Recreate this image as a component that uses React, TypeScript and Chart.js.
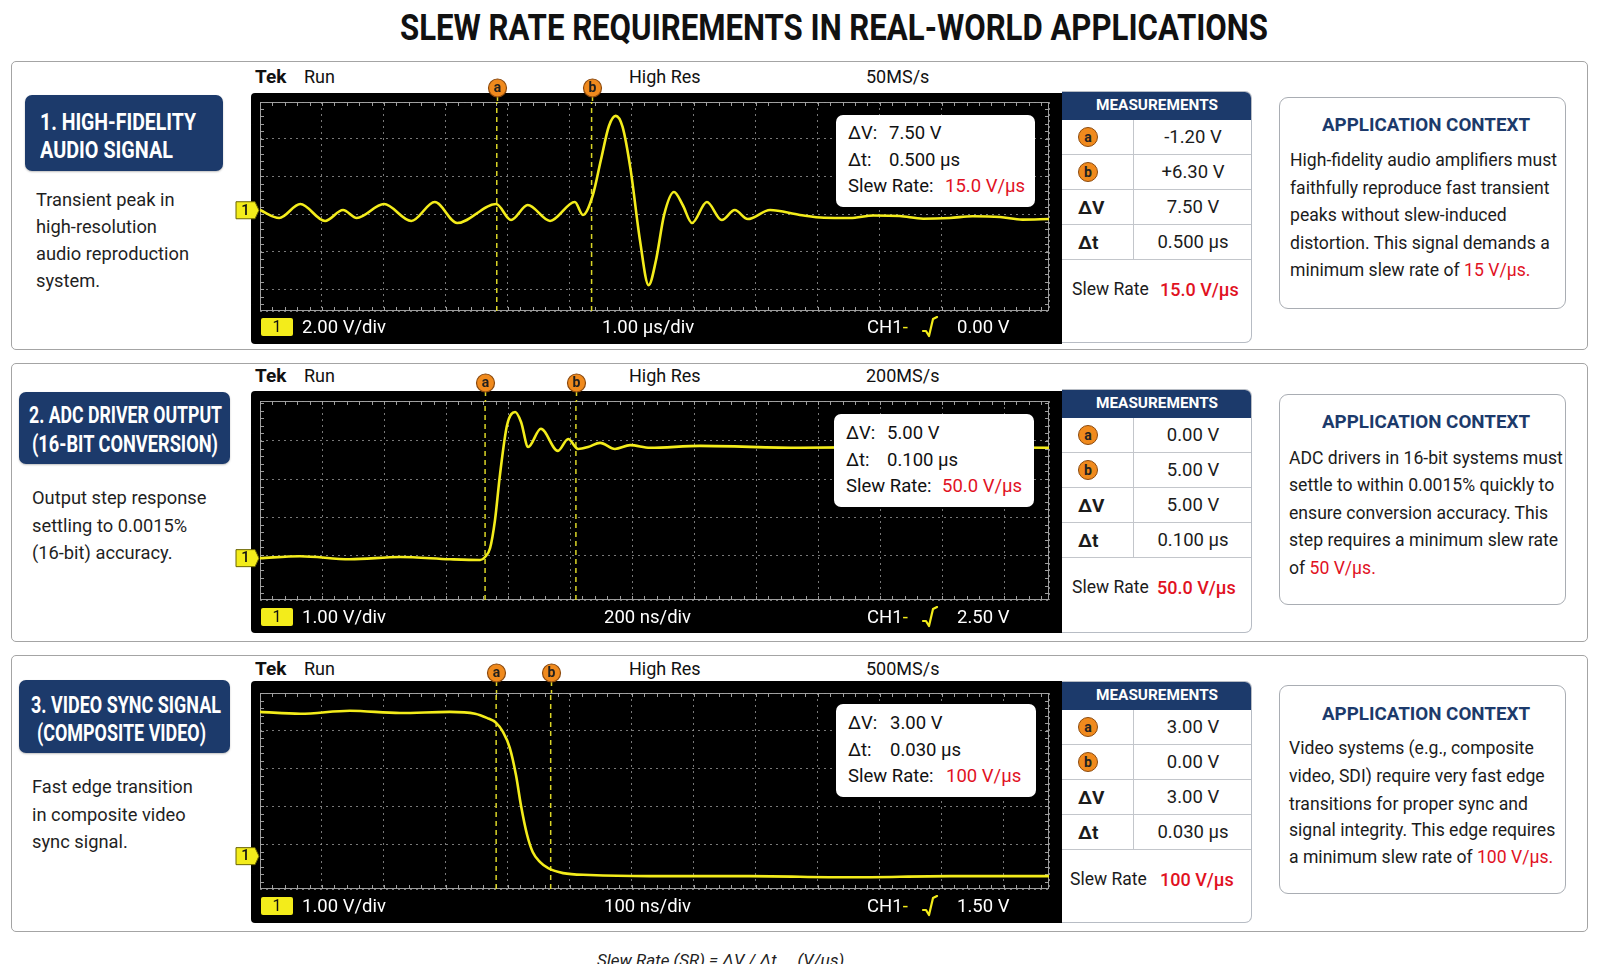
import React, { useEffect, useLayoutEffect, useRef } from "react";
import { Chart, registerables } from "chart.js";

Chart.register(...registerables);

const FONT = 'Roboto, "Noto Sans", "DejaVu Sans", sans-serif';
const NAVY = "#1c3a6b";
const RED = "#e1121f";
const ORANGE = "#f08a1d";
const SIG = "#f3ec1b";

// ---------------- data ----------------
const TITLE = "SLEW RATE REQUIREMENTS IN REAL-WORLD APPLICATIONS";
const LABELS = [
  ["1. HIGH-FIDELITY", "AUDIO SIGNAL"],
  ["2. ADC DRIVER OUTPUT", "(16-BIT CONVERSION)"],
  ["3. VIDEO SYNC SIGNAL", "(COMPOSITE VIDEO)"],
];
const DESCRIPTIONS = [
  ["Transient peak in", "high-resolution", "audio reproduction", "system."],
  ["Output step response", "settling to 0.0015%", "(16-bit) accuracy."],
  ["Fast edge transition", "in composite video", "sync signal."],
];
const SAMPLE_RATES = ["50MS/s", "200MS/s", "500MS/s"];
const VOLTS_PER_DIV = ["2.00 V/div", "1.00 V/div", "1.00 V/div"];
const TIME_PER_DIV = ["1.00 µs/div", "200 ns/div", "100 ns/div"];
const TRIGGER_LEVELS = ["0.00 V", "2.50 V", "1.50 V"];
const CURSOR_A_VOLTS = ["-1.20 V", "0.00 V", "3.00 V"];
const CURSOR_B_VOLTS = ["+6.30 V", "5.00 V", "0.00 V"];
const DELTA_V = ["7.50 V", "5.00 V", "3.00 V"];
const DELTA_T = ["0.500 µs", "0.100 µs", "0.030 µs"];
const SLEW_RATES = ["15.0 V/µs", "50.0 V/µs", "100 V/µs"];
const CONTEXT_LINES = [
  ["High-fidelity audio amplifiers must", "faithfully reproduce fast transient", "peaks without slew-induced", "distortion. This signal demands a", "minimum slew rate of "],
  ["ADC drivers in 16-bit systems must", "settle to within 0.0015% quickly to", "ensure conversion accuracy. This", "step requires a minimum slew rate", "of "],
  ["Video systems (e.g., composite", "video, SDI) require very fast edge", "transitions for proper sync and", "signal integrity. This edge requires", "a minimum slew rate of "],
];
const CONTEXT_REQUIREMENT = ["15 V/µs.", "50 V/µs.", "100 V/µs."];

// waveform samples read from the screens (time, volts)
const AUDIO_TIME_US = [0, 0.31, 0.65, 1.05, 1.34, 1.56, 2.0, 2.44, 2.82, 3.18, 3.81, 4.05, 4.32, 4.68, 5.08, 5.21, 5.37, 5.5, 5.63, 5.74, 5.85, 5.98, 6.13, 6.27, 6.39, 6.52, 6.68, 6.82, 6.97, 7.21, 7.45, 7.66, 7.87, 8.23, 8.71, 9.1, 9.52, 9.9, 10.32, 10.7, 11.13, 11.5, 11.94, 12.3, 12.73];
const AUDIO_VOLTS = [0.21, -0.21, 0.53, -0.37, 0.21, -0.21, 0.53, -0.37, 0.64, -0.48, 0.53, -0.32, 0.48, -0.37, 0.64, -0.05, 1.01, 2.88, 4.69, 5.23, 4.64, 2.35, -1.39, -3.79, -2.45, -0.05, 1.17, 0.48, -0.48, 0.64, -0.32, 0.21, -0.27, 0.21, -0.05, -0.2, -0.21, -0.08, -0.11, -0.25, -0.21, -0.12, -0.16, -0.3, -0.27];
const ADC_TIME_NS = [0, 129, 290, 452, 613, 710, 726, 742, 758, 774, 797, 823, 842, 865, 906, 961, 994, 1026, 1058, 1097, 1145, 1194, 1258, 1419, 1742, 2065, 2545];
const ADC_VOLTS = [-0.08, -0.03, -0.11, -0.05, -0.11, -0.13, -0.05, 0.18, 0.92, 2.11, 3.42, 3.76, 3.5, 2.84, 3.32, 2.74, 3.05, 2.79, 2.84, 2.95, 2.79, 2.89, 2.82, 2.87, 2.82, 2.84, 2.82];
const VIDEO_TIME_NS = [0, 65, 145, 226, 306, 347, 366, 381, 392, 403, 413, 421, 431, 440, 452, 465, 489, 532, 629, 790, 952, 1113, 1273];
const VIDEO_VOLTS = [3.5, 3.45, 3.53, 3.47, 3.5, 3.45, 3.34, 3.21, 2.97, 2.55, 1.83, 1.03, 0.24, -0.21, -0.48, -0.64, -0.77, -0.82, -0.85, -0.85, -0.88, -0.85, -0.85];
const SIGNAL_TIMES = [AUDIO_TIME_US, ADC_TIME_NS, VIDEO_TIME_NS];
const SIGNAL_VOLTS = [AUDIO_VOLTS, ADC_VOLTS, VIDEO_VOLTS];
const CURSOR_A_TIME = [3.82, 726, 381];
const CURSOR_B_TIME = [5.35, 1019, 469];
const CHANNEL_GROUND = [0.2, -0.08, -0.32];
const X_RANGE = [[0, 12.73], [0, 2545], [0, 1273]];
const X_DIV = [1, 200, 100];
const Y_RANGE = [[-5.17, 5.97], [-1.18, 4.05], [-1.19, 4.0]];
const Y_DIV = [2, 1, 1];

// ---------------- layout ----------------
const LAYOUT = [
  {
    top: 61, bottom: 350, label: { l: 25, t: 95, w: 198, h: 76 },
    labelLines: [{ x: 40, cy: 122, w: 156 }, { x: 40, cy: 150, w: 133 }],
    descX: 36, descY: [200, 227, 254, 281], headY: 76, black: [93, 344], grid: [102, 311], footY: 327,
    overlay: { l: 836, t: 115, w: 199, h: 92, ys: [133, 160, 186], lx: 848, vx: 889, sx: 945 },
    table: [91, 343], ctx: [97, 309], ctxTitleY: 125, ctxX: 1290, ctxY: [160, 188, 215, 243, 270], circleGap: 14,
    tdivX: 602, slewX: 1072, slewVX: 1160,
  },
  {
    top: 363, bottom: 642, label: { l: 19, t: 392, w: 211, h: 72 },
    labelLines: [{ x: 29, cy: 415, w: 193 }, { x: 32, cy: 444, w: 186 }],
    descX: 32, descY: [498, 526, 553], headY: 375, black: [391, 633], grid: [401, 600], footY: 617,
    overlay: { l: 834, t: 414, w: 200, h: 93, ys: [433, 460, 486], lx: 846, vx: 887, sx: 942 },
    table: [389, 633], ctx: [394, 605], ctxTitleY: 422, ctxX: 1289, ctxY: [458, 485, 513, 540, 568], circleGap: 18,
    tdivX: 604, slewX: 1072, slewVX: 1157,
  },
  {
    top: 655, bottom: 932, label: { l: 19, t: 680, w: 211, h: 73 },
    labelLines: [{ x: 31, cy: 705, w: 190 }, { x: 37, cy: 733, w: 169 }],
    descX: 32, descY: [787, 815, 842], headY: 668, black: [681, 923], grid: [693, 889], footY: 906,
    overlay: { l: 836, t: 704, w: 200, h: 93, ys: [723, 750, 776], lx: 848, vx: 890, sx: 946 },
    table: [681, 923], ctx: [685, 894], ctxTitleY: 714, ctxX: 1289, ctxY: [748, 776, 804, 830, 857], circleGap: 20,
    tdivX: 604, slewX: 1070, slewVX: 1160,
  },
];

// ---------------- helpers ----------------
function Txt({ x, cy, size = 17, color = "#1b1b1b", weight = 400, italic = false, children }: any) {
  const lh = Math.round(size * 1.3);
  return (
    <div style={{ position: "absolute", left: x, top: cy - lh / 2, height: lh, lineHeight: `${lh}px`, fontSize: size, fontFamily: FONT, fontWeight: weight, fontStyle: italic ? "italic" : "normal", color, whiteSpace: "pre" }}>
      {children}
    </div>
  );
}

function Fit({ x, cy, w, size, weight = 700, color, children }: any) {
  const ref = useRef<HTMLDivElement>(null);
  useLayoutEffect(() => {
    const el = ref.current;
    if (!el) return;
    el.style.transform = "none";
    const nw = el.getBoundingClientRect().width;
    if (nw > 0) el.style.transform = `scaleX(${w / nw})`;
  });
  const lh = Math.round(size * 1.25);
  return (
    <div ref={ref} style={{ position: "absolute", left: x, top: cy - lh / 2, lineHeight: `${lh}px`, fontSize: size, fontWeight: weight, fontFamily: FONT, color, whiteSpace: "pre", transformOrigin: "0 50%" }}>
      {children}
    </div>
  );
}

function Badge({ letter, size = 20 }: any) {
  return (
    <span style={{ display: "inline-flex", alignItems: "center", justifyContent: "center", width: size, height: size, borderRadius: "50%", background: ORANGE, border: "1.2px solid #8c4a0e", boxSizing: "border-box", fontFamily: FONT, fontWeight: 700, fontSize: 14, color: "#222", lineHeight: 1 }}>
      {letter}
    </span>
  );
}

const scopePlugin = {
  id: "scopeDecor",
  beforeDatasetsDraw(chart: any, _args: any, o: any) {
    const { ctx, chartArea: ca, scales } = chart;
    const xs = scales.x;
    const ys = scales.y;
    ctx.save();
    ctx.strokeStyle = "rgba(165,165,165,0.95)";
    ctx.lineWidth = 1;
    ctx.strokeRect(Math.round(ca.left) + 0.5, Math.round(ca.top) + 0.5, Math.round(ca.width) - 1, Math.round(ca.height) - 1);
    ctx.beginPath();
    const xm = o.xStep / 5;
    for (let v = xs.min; v <= xs.max + 1e-9; v += xm) {
      const px = Math.round(xs.getPixelForValue(v)) + 0.5;
      ctx.moveTo(px, ca.top); ctx.lineTo(px, ca.top + 4);
      ctx.moveTo(px, ca.bottom); ctx.lineTo(px, ca.bottom - 4);
    }
    const ym = o.yStep / 5;
    const start = Math.ceil(ys.min / ym) * ym;
    for (let v = start; v <= ys.max + 1e-9; v += ym) {
      const py = Math.round(ys.getPixelForValue(v)) + 0.5;
      ctx.moveTo(ca.left, py); ctx.lineTo(ca.left + 4, py);
      ctx.moveTo(ca.right, py); ctx.lineTo(ca.right - 4, py);
    }
    ctx.stroke();
    ctx.restore();
  },
  afterDraw(chart: any, _args: any, o: any) {
    const { ctx, chartArea: ca, scales } = chart;
    const xs = scales.x;
    const ys = scales.y;
    ctx.save();
    o.cursors.forEach((c: number, k: number) => {
      const px = Math.round(xs.getPixelForValue(c)) + 0.5;
      const cy = ca.top - o.circleGap;
      ctx.strokeStyle = "rgba(230,224,40,0.95)";
      ctx.lineWidth = 1.5;
      ctx.setLineDash([5, 4]);
      ctx.beginPath();
      ctx.moveTo(px, cy + 8);
      ctx.lineTo(px, ca.top);
      ctx.stroke();
      ctx.setLineDash([]);
      ctx.beginPath();
      ctx.arc(px, cy, 9, 0, Math.PI * 2);
      ctx.fillStyle = ORANGE;
      ctx.fill();
      ctx.strokeStyle = "#8c4a0e";
      ctx.lineWidth = 1.2;
      ctx.stroke();
      ctx.fillStyle = "#1e1e1e";
      ctx.font = `700 14px ${FONT}`;
      ctx.textAlign = "center";
      ctx.textBaseline = "middle";
      ctx.fillText(k === 0 ? "a" : "b", px, cy + 0.5);
    });
    const py = ys.getPixelForValue(o.marker);
    const x0 = ca.left - 24;
    ctx.beginPath();
    ctx.moveTo(x0, py - 8.5);
    ctx.lineTo(ca.left - 5, py - 8.5);
    ctx.lineTo(ca.left - 1, py);
    ctx.lineTo(ca.left - 5, py + 8.5);
    ctx.lineTo(x0, py + 8.5);
    ctx.closePath();
    ctx.fillStyle = SIG;
    ctx.fill();
    ctx.strokeStyle = "#6b6500";
    ctx.lineWidth = 1;
    ctx.stroke();
    ctx.fillStyle = "#111";
    ctx.font = `500 15px ${FONT}`;
    ctx.textAlign = "center";
    ctx.textBaseline = "middle";
    ctx.fillText("1", x0 + 9.5, py + 0.5);
    ctx.restore();
  },
};

function Scope({ i }: { i: number }) {
  const ref = useRef<HTMLCanvasElement>(null);
  const L = LAYOUT[i];
  const left = 230;
  const width = 832;
  const top = L.black[0] - 20;
  const height = L.black[1] - top;
  useEffect(() => {
    const canvas = ref.current;
    if (!canvas) return;
    const [ymin, ymax] = Y_RANGE[i];
    const [xmin, xmax] = X_RANGE[i];
    const sig = SIGNAL_TIMES[i].map((t, k) => ({ x: t, y: SIGNAL_VOLTS[i][k] }));
    const cursorDs = (t: number) => ({
      data: [{ x: t, y: ymin }, { x: t, y: ymax }],
      borderColor: "rgba(230,224,40,0.95)",
      borderWidth: 1.5,
      borderDash: [5, 4],
      pointRadius: 0,
      order: 2,
    });
    const gridCfg = { color: "rgba(150,150,150,0.8)", lineWidth: 1, drawTicks: false };
    const chart = new Chart(canvas, {
      type: "line",
      data: {
        datasets: [
          { data: sig, borderColor: SIG, borderWidth: 2.6, pointRadius: 0, cubicInterpolationMode: "monotone", order: 0 } as any,
          cursorDs(CURSOR_A_TIME[i]) as any,
          cursorDs(CURSOR_B_TIME[i]) as any,
        ],
      },
      options: {
        animation: false,
        responsive: false,
        maintainAspectRatio: false,
        events: [],
        layout: { padding: { left: 30, right: width - (1049 - left), top: L.grid[0] - top, bottom: L.black[1] - L.grid[1] } },
        plugins: {
          legend: { display: false },
          tooltip: { enabled: false },
          scopeDecor: { cursors: [CURSOR_A_TIME[i], CURSOR_B_TIME[i]], marker: CHANNEL_GROUND[i], xStep: X_DIV[i], yStep: Y_DIV[i], circleGap: L.circleGap },
        } as any,
        scales: {
          x: { type: "linear", min: xmin, max: xmax, ticks: { display: false, stepSize: X_DIV[i], maxTicksLimit: 100 }, grid: gridCfg, border: { display: false, dash: [2, 4] } } as any,
          y: { type: "linear", min: ymin, max: ymax, ticks: { display: false, stepSize: Y_DIV[i], maxTicksLimit: 100 }, grid: gridCfg, border: { display: false, dash: [2, 4] } } as any,
        },
      },
      plugins: [scopePlugin as any],
    });
    return () => chart.destroy();
  }, [i]);
  return <canvas ref={ref} width={width} height={height} style={{ position: "absolute", left, top, width, height }} />;
}

function Panel({ i }: { i: number }) {
  const L = LAYOUT[i];
  const ov = L.overlay;
  const tTop = L.table[0];
  const rowTop = tTop + 28;
  const rows = [
    [<Badge letter="a" />, CURSOR_A_VOLTS[i]],
    [<Badge letter="b" />, CURSOR_B_VOLTS[i]],
    [<span style={{ fontWeight: 700 }}>ΔV</span>, DELTA_V[i]],
    [<span style={{ fontWeight: 700 }}>Δt</span>, DELTA_T[i]],
  ];
  return (
    <>
      <div style={{ position: "absolute", left: 11, top: L.top, width: 1577, height: L.bottom - L.top, border: "1.5px solid #a4a4a4", borderRadius: 5, boxSizing: "border-box", background: "#fff" }} />
      <div style={{ position: "absolute", left: L.label.l, top: L.label.t, width: L.label.w, height: L.label.h, background: NAVY, borderRadius: 7, boxShadow: "0 1px 2px rgba(0,0,0,0.25)" }} />
      {LABELS[i].map((s, k) => (
        <Fit key={k} x={L.labelLines[k].x} cy={L.labelLines[k].cy} w={L.labelLines[k].w} size={23} color="#fff">{s}</Fit>
      ))}
      {DESCRIPTIONS[i].map((s, k) => (
        <Txt key={k} x={L.descX} cy={L.descY[k]} size={18.3} color="#1f1f1f">{s}</Txt>
      ))}
      <Txt x={255} cy={L.headY} size={19} weight={700} color="#111">Tek</Txt>
      <Txt x={304} cy={L.headY} size={18} color="#111">Run</Txt>
      <Txt x={629} cy={L.headY} size={18} color="#111">High Res</Txt>
      <Txt x={866} cy={L.headY} size={18} color="#111">{SAMPLE_RATES[i]}</Txt>
      <div style={{ position: "absolute", left: 251, top: L.black[0], width: 811, height: L.black[1] - L.black[0], background: "#000", borderRadius: "4px 0 0 4px" }} />
      <Scope i={i} />
      <div style={{ position: "absolute", left: 261, top: L.footY - 9, width: 32, height: 18, background: SIG, borderRadius: 2, textAlign: "center", lineHeight: "18px", fontFamily: FONT, fontSize: 16, color: "#111" }}>1</div>
      <Txt x={302} cy={L.footY} size={18.5} color="#fff">{VOLTS_PER_DIV[i]}</Txt>
      <Txt x={L.tdivX} cy={L.footY} size={18.5} color="#fff">{TIME_PER_DIV[i]}</Txt>
      <Txt x={867} cy={L.footY} size={18.5} color="#fff">CH1<span style={{ color: SIG }}>-</span></Txt>
      <svg style={{ position: "absolute", left: 921, top: L.footY - 11 }} width={18} height={22}>
        <polyline points="2,15 5,15 8,20 12,3 16,1" fill="none" stroke={SIG} strokeWidth={2.2} strokeLinejoin="round" strokeLinecap="round" />
      </svg>
      <Txt x={957} cy={L.footY} size={18.5} color="#fff">{TRIGGER_LEVELS[i]}</Txt>
      <div style={{ position: "absolute", left: ov.l, top: ov.t, width: ov.w, height: ov.h, background: "#fff", borderRadius: 7 }} />
      <Txt x={ov.lx} cy={ov.ys[0]} size={18.5} color="#111">ΔV:</Txt>
      <Txt x={ov.vx} cy={ov.ys[0]} size={18.5} color="#111">{DELTA_V[i]}</Txt>
      <Txt x={ov.lx} cy={ov.ys[1]} size={18.5} color="#111">Δt:</Txt>
      <Txt x={ov.vx} cy={ov.ys[1]} size={18.5} color="#111">{DELTA_T[i]}</Txt>
      <Txt x={ov.lx} cy={ov.ys[2]} size={18.5} color="#111">Slew Rate:</Txt>
      <Txt x={ov.sx} cy={ov.ys[2]} size={18.5} color={RED}>{SLEW_RATES[i]}</Txt>
      <div style={{ position: "absolute", left: 1062, top: tTop, width: 190, height: L.table[1] - tTop, background: "#fff", border: "1px solid #b7bcc4", borderLeft: "none", borderRadius: "0 7px 7px 0", boxSizing: "border-box", overflow: "hidden" }}>
        <div style={{ position: "absolute", left: 0, top: 0, width: 190, height: 28, background: NAVY }} />
        {rows.map((r, k) => (
          <div key={k} style={{ position: "absolute", left: 0, top: 28 + k * 35, width: 190, height: 35, borderBottom: "1px solid #c3c6cb", boxSizing: "border-box" }}>
            <div style={{ position: "absolute", left: 71, top: 0, width: 1, height: 35, background: "#c3c6cb" }} />
            <div style={{ position: "absolute", left: 16, top: 0, height: 34, display: "flex", alignItems: "center", fontFamily: FONT, fontSize: 19, color: "#1b1b1b" }}>{r[0]}</div>
            <div style={{ position: "absolute", left: 72, top: 0, width: 118, height: 34, display: "flex", alignItems: "center", justifyContent: "center", fontFamily: FONT, fontSize: 18.5, color: "#1b1b1b" }}>{r[1]}</div>
          </div>
        ))}
      </div>
      <Fit x={1096} cy={tTop + 14} w={122} size={15} color="#fff">MEASUREMENTS</Fit>
      <Txt x={L.slewX} cy={rowTop + 140 + 30} size={17.5} color="#1b1b1b">Slew Rate</Txt>
      <Txt x={L.slewVX} cy={rowTop + 140 + 30} size={18} weight={500} color={RED}>{SLEW_RATES[i]}</Txt>
      <div style={{ position: "absolute", left: 1279, top: L.ctx[0], width: 287, height: L.ctx[1] - L.ctx[0], border: "1.5px solid #a9adb3", borderRadius: 9, boxSizing: "border-box", background: "#fff" }} />
      <Fit x={1322} cy={L.ctxTitleY} w={208} size={19} color={NAVY}>APPLICATION CONTEXT</Fit>
      {CONTEXT_LINES[i].map((s, k) => (
        <Txt key={k} x={L.ctxX} cy={L.ctxY[k]} size={17.6} color="#1b1b1b">
          {s}
          {k === CONTEXT_LINES[i].length - 1 ? <span style={{ color: RED }}>{CONTEXT_REQUIREMENT[i]}</span> : null}
        </Txt>
      ))}
    </>
  );
}

export default function App() {
  return (
    <div style={{ position: "absolute", left: 0, top: 0, width: 1599, height: 964, overflow: "hidden", background: "#fff", fontFamily: FONT }}>
      <Fit x={400} cy={28} w={868} size={36} color="#111">{TITLE}</Fit>
      {[0, 1, 2].map((i) => (
        <Panel key={i} i={i} />
      ))}
      <Txt x={597} cy={960} size={17} italic color="#222">{"Slew Rate (SR) = ΔV / Δt     (V/µs)"}</Txt>
    </div>
  );
}
